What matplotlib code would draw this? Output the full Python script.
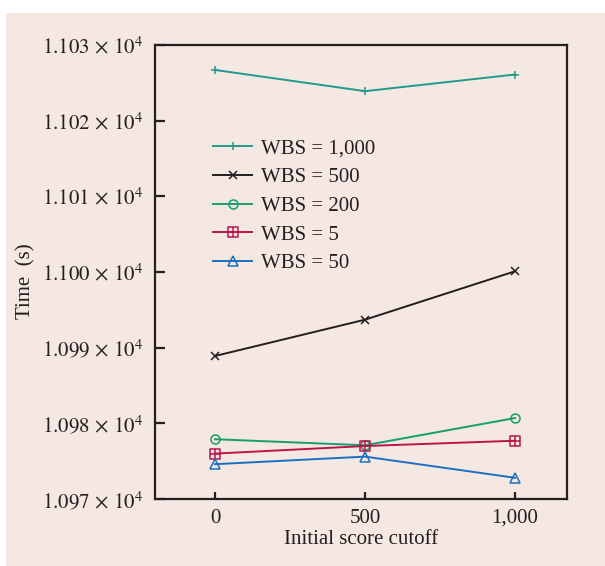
import numpy as np
import matplotlib
matplotlib.use('Agg')
import matplotlib.pyplot as plt
import matplotlib.patches as patches
from matplotlib.path import Path
from matplotlib.ticker import FuncFormatter, FixedLocator

plt.rcParams['font.family'] = ['Liberation Serif', 'DejaVu Serif']
plt.rcParams['mathtext.fontset'] = 'stix'

###############################
# data
cutoff = [0, 500, 1000]
wbs_1000 = [11026.7, 11023.9, 11026.1]
wbs_500 = [10988.9, 10993.7, 11000.1]
wbs_200 = [10977.9, 10977.1, 10980.7]
wbs_5 = [10976.0, 10977.0, 10977.7]
wbs_50 = [10974.6, 10975.6, 10972.8]

labels = ['WBS = 1,000', 'WBS = 500', 'WBS = 200', 'WBS = 5', 'WBS = 50']
yticks = [10970, 10980, 10990, 11000, 11010, 11020, 11030]
xticks = [0, 500, 1000]
xticklabels = ['0', '500', '1,000']

bg = '#f5e7e1'
ink = '#231f20'
fs = 15

# square with a plus inside
boxplus = Path([(-1, -1), (1, -1), (1, 1), (-1, 1), (-1, -1),
                (0, -1), (0, 1), (-1, 0), (1, 0)],
               [Path.MOVETO, Path.LINETO, Path.LINETO, Path.LINETO, Path.CLOSEPOLY,
                Path.MOVETO, Path.LINETO, Path.MOVETO, Path.LINETO])

series = [
    (wbs_1000, '#1f9a8c', '+', 6),
    (wbs_500, ink, 'x', 5.5),
    (wbs_200, '#12a06f', 'o', 6.5),
    (wbs_5, '#b8164a', boxplus, 7),
    (wbs_50, '#1b6fc0', '^', 6.5),
]

###############################
fig = plt.figure(figsize=(6.05, 5.66), dpi=100)
fig.patch.set_facecolor('white')
fig.patches.append(patches.Rectangle((6 / 605, 0), 1, 1 - 13 / 566,
                                     transform=fig.transFigure,
                                     facecolor=bg, edgecolor='none', zorder=-10))

axes = fig.add_axes([155 / 605, 1 - 499 / 566, 412 / 605, 454 / 566])
axes.set_zorder(1)
axes.set_facecolor(bg)

for (vals, col, mk, ms), lab in zip(series, labels):
    axes.plot(cutoff, vals, color=col, lw=1.4, marker=mk, ms=ms,
              mfc='none', mec=col, mew=1.1, label=lab)

axes.set_xlim(-200, 1173)
axes.set_ylim(10970, 11030)
axes.xaxis.set_major_locator(FixedLocator(xticks))
axes.set_xticklabels(xticklabels)
axes.yaxis.set_major_locator(FixedLocator(yticks))
axes.yaxis.set_major_formatter(
    FuncFormatter(lambda v, p: r'$%.3f\,\times\,10^{4}$' % (v / 1e4)))

for s in axes.spines.values():
    s.set_linewidth(1.6)
    s.set_color(ink)
axes.tick_params(axis='y', direction='in', length=7, width=1.6, color=ink,
                 labelsize=fs, labelcolor=ink, pad=8)
axes.tick_params(axis='x', direction='in', length=5, width=1.6, color=ink,
                 labelsize=fs, labelcolor=ink, pad=7)

axes.set_xlabel('Initial score cutoff', fontsize=fs, color=ink, labelpad=2)
axes.set_ylabel('Time  (s)', fontsize=fs, color=ink)
axes.yaxis.set_label_coords(-0.29, 0.479)

leg = axes.legend(loc='center left', bbox_to_anchor=(0.141, 0.645),
                  frameon=False, fontsize=fs, handlelength=1.87,
                  handletextpad=0.43, labelspacing=0.44,
                  borderpad=0, borderaxespad=0)
for t in leg.get_texts():
    t.set_color(ink)

plt.savefig('out.png', dpi=100, facecolor=fig.get_facecolor())
